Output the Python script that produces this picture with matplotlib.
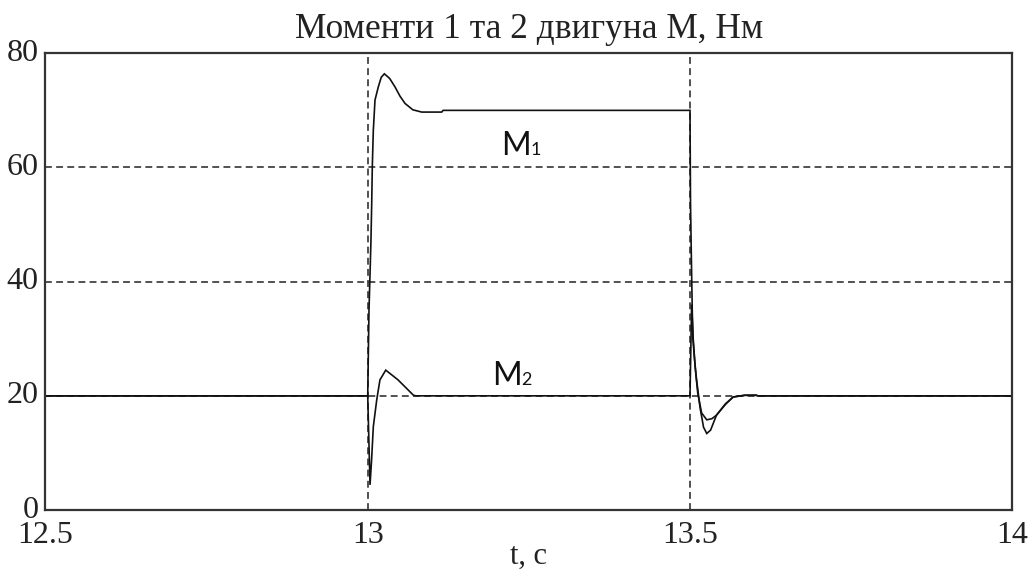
import matplotlib
matplotlib.use("Agg")
import matplotlib.pyplot as plt
import matplotlib.transforms as mtransforms

# ---- data ----
t_m1 = [12.5, 13.0, 13.002, 13.005, 13.0062, 13.0071, 13.0087, 13.0113, 13.0164,
        13.021, 13.0258, 13.034, 13.0424, 13.050, 13.058, 13.070, 13.0838, 13.1148,
        13.117, 13.5, 13.5008, 13.502, 13.5035, 13.5045, 13.507, 13.510, 13.5155,
        13.521, 13.526, 13.532, 13.541, 13.555, 13.567, 13.585, 13.603, 13.605, 14.0]
m1 = [20, 20, 35, 47, 53.7, 60, 66.5, 71.8, 74.1,
      75.8, 76.4, 75.6, 74.1, 72.5, 71.2, 70.1, 69.7, 69.7,
      70, 70, 53.7, 45, 35, 30, 26.5, 23, 18,
      14.5, 13.4, 14.0, 16.6, 18.6, 19.8, 20.1, 20.1, 20, 20]

t_m2 = [12.5, 13.0, 13.0036, 13.006, 13.0087, 13.014, 13.019, 13.028, 13.047,
        13.071, 13.075, 13.5, 13.5025, 13.505, 13.508, 13.512, 13.518, 13.526,
        13.534, 13.541, 13.555, 13.567, 13.585, 13.603, 13.605, 14.0]
m2 = [20, 20, 4.4, 8.75, 14.6, 19.3, 22.8, 24.5, 22.8,
      20.1, 20, 20, 36, 30, 25, 20.5, 17, 15.8,
      16.0, 16.6, 18.5, 19.8, 20.1, 20.1, 20, 20]

x_ticks = [12.5, 13.0, 13.5, 14.0]
x_tick_labels = ["12.5", "13", "13.5", "14"]
y_ticks = [0, 20, 40, 60, 80]
y_tick_labels = ["0", "20", "40", "60", "80"]

title = "Моменти 1 та 2 двигуна М, Нм"
xlabel = "t, c"

# label positions (data coords)
lab_m1 = (13.2076, 62.1)
lab_m1_sub = (13.253, 62.1)
lab_m2 = (13.1924, 21.9)
lab_m2_sub = (13.2375, 21.9)

# ---- figure ----
fig = plt.figure(figsize=(10.30, 5.71), dpi=100)
ax = fig.add_axes([0.0441, 0.1068, 0.9387, 0.7999])

ax.plot(t_m1, m1, color="#111111", lw=1.2, solid_joinstyle="miter")
ax.plot(t_m2, m2, color="#111111", lw=1.2, solid_joinstyle="miter")

ax.set_xlim(12.5, 14.0)
ax.set_ylim(0, 80)
ax.set_xticks(x_ticks)
ax.set_xticklabels(x_tick_labels)
ax.set_yticks(y_ticks)
ax.set_yticklabels(y_tick_labels)

serif = "Liberation Serif"
for lab in ax.get_xticklabels() + ax.get_yticklabels():
    lab.set_fontfamily(serif)
    lab.set_fontsize(23)
    lab.set_color("#222222")
ax.tick_params(axis="both", length=0)
ax.tick_params(axis="x", pad=8)
ax.tick_params(axis="y", pad=5)

# nudge y tick labels up slightly (as in the reference)
shift = mtransforms.ScaledTranslation(0, 2.5 / 72, fig.dpi_scale_trans)
for lab in ax.get_yticklabels():
    lab.set_transform(lab.get_transform() + shift)

ax.set_axisbelow(True)
ax.grid(True, color="#222222", lw=1.1, linestyle=(0, (4.5, 2.8)))

for sp in ax.spines.values():
    sp.set_linewidth(1.6)
    sp.set_color("#333333")

ax.set_title(title, fontfamily=serif, fontsize=25.5, color="#222222", pad=11)
ax.set_xlabel(xlabel, fontfamily=serif, fontsize=22, color="#222222", labelpad=-6)

lab_font = "Lato"
ax.text(*lab_m1, "M", fontfamily=lab_font, fontsize=23, ha="left", va="baseline", color="#111111")
ax.text(*lab_m1_sub, "1", fontfamily=lab_font, fontsize=13, ha="left", va="baseline", color="#111111")
ax.text(*lab_m2, "M", fontfamily=lab_font, fontsize=23, ha="left", va="baseline", color="#111111")
ax.text(*lab_m2_sub, "2", fontfamily=lab_font, fontsize=13, ha="left", va="baseline", color="#111111")

fig.savefig("out.png", dpi=100)
